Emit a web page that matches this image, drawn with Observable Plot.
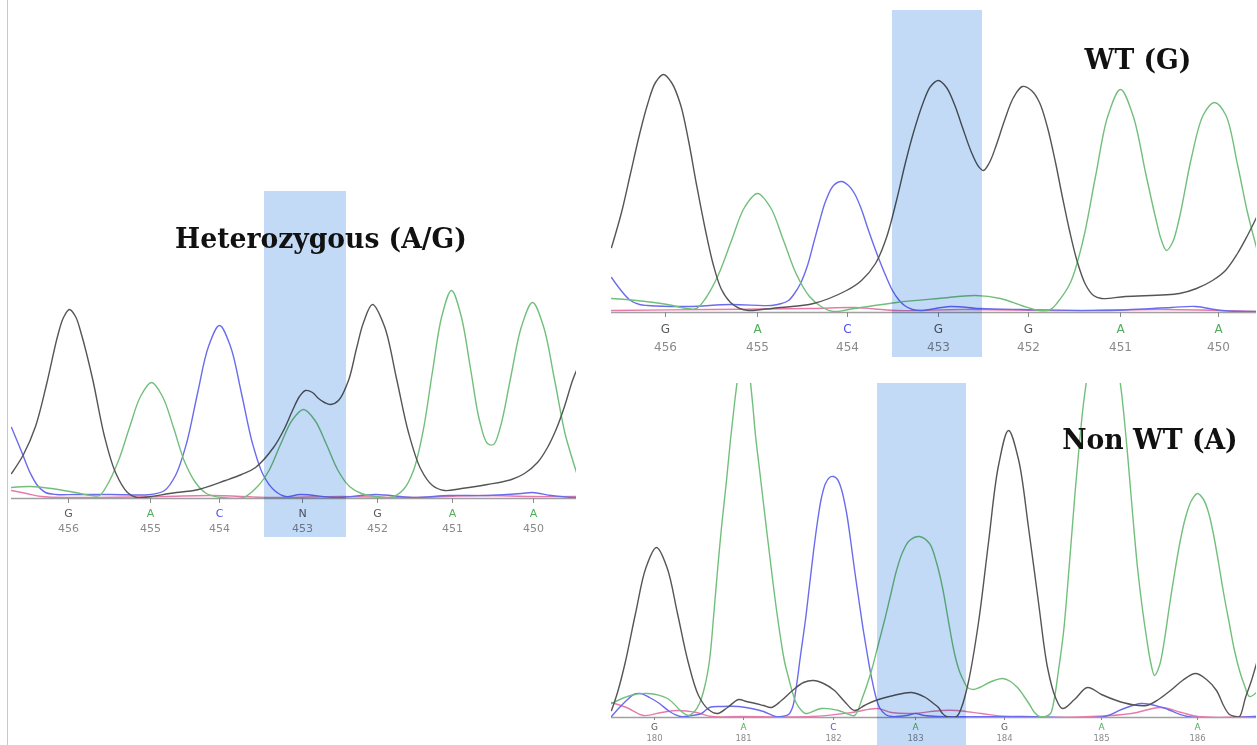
<!DOCTYPE html>
<html><head><meta charset="utf-8">
<script src="https://cdn.jsdelivr.net/npm/d3@7"></script>
<script src="https://cdn.jsdelivr.net/npm/@observablehq/plot@0.6"></script>
<style>
body{margin:0;background:#fff;}
#root{position:relative;width:1257px;height:745px;overflow:hidden;background:#fff;}
.panel{position:absolute;}
.title{position:absolute;font-family:"DejaVu Serif",serif;font-weight:bold;font-size:28px;line-height:1;color:#111;white-space:nowrap;transform:translateX(-50%) scaleX(0.95);transform-origin:50% 50%;}
#edge{position:absolute;left:7px;top:0;width:1px;height:745px;background:#c8c8c8;}
</style></head>
<body><div id="root"><div id="edge"></div></div>
<script>
// ---------- Panel 1: Heterozygous (A/G) ----------  [scan, signal]
const hetTicks = [57, 139, 208, 291, 366, 441, 522];
const hetBases = ["G", "A", "C", "N", "G", "A", "A"];
const hetPositions = [456, 455, 454, 453, 452, 451, 450];
const hetBand = [253, 335];
const hetG = [[0,25],[12,44],[24,72],[35,114],[46,162],[52,181],[58,189],[64,182],[70,164],[81,120],[93,62],[104,26],[116,6],[125,1],[140,2],[158,5],[187,9],[214,18],[230,24],[244,31],[262,51],[272,68],[281,88],[288,102],[294,108],[301,106],[307,100],[313,96],[319,94],[327,98],[337,118],[345,150],[352,176],[361,194],[373,172],[385,120],[397,66],[409,30],[421,13],[433,8],[450,10],[476,14],[500,19],[513,25],[526,36],[536,51],[545,70],[553,92],[561,118],[565,128]];
const hetA = [[0,11],[19,12],[40,10],[64,6],[80,3],[88,3],[96,14],[107,38],[118,71],[129,102],[140,116],[151,102],[162,71],[173,37],[184,16],[195,5],[210,1],[232,1],[246,12],[257.5,28],[269,54],[280.5,78],[292,89],[303.5,78],[315,54],[326.5,28],[338,12],[350,5],[365,2],[379,1],[392,9],[402,28],[411.5,67],[421,127],[430.5,183],[440,208],[449.5,183],[459,130],[468,78],[476,55],[482,54],[489,72],[499,120],[510,172],[521,196],[532,172],[543,119],[554,63],[565,26]];
const hetC = [[0,71],[10,47],[19,25],[26,13],[34,6],[45,4],[64,4],[100,4],[139,4],[153,8],[164,23],[175,55],[186,105],[197,152],[208,173],[219,152],[230,105],[241,55],[252,23],[263,8],[274,2],[289,4],[326,1],[364,4],[401,1],[438,3],[476,3],[510,5],[521,6],[540,3],[561,1],[565,1]];
const hetT = [[0,8],[15,5],[30,2],[60,1],[150,2],[200,3],[260,1],[330,2],[400,1],[470,3],[520,2],[565,2]];

// ---------- Panel 2: WT (G) ----------
const wtTicks = [54, 146, 236, 327, 417, 509, 607];
const wtBases = ["G", "A", "C", "G", "G", "A", "A"];
const wtPositions = [456, 455, 454, 453, 452, 451, 450];
const wtBand = [281, 371];
const wtG = [[0,65],[10,100],[19,139],[28,178],[36,208],[44,230],[52,238],[60,230],[69,208],[77,172],[85,128],[94,82],[102,47],[110,23],[119,10],[128,4],[137,2],[150,3],[169,5],[202,9],[235,22],[250,32],[264,49],[275,75],[285,112],[294,150],[302,180],[311,208],[319,226],[327,232],[335,225],[343,208],[351,185],[360,160],[367,146],[372,142],[378,150],[385,168],[393,192],[402,215],[411,226],[420,222],[428,210],[436,185],[444,150],[451,115],[458,82],[466,50],[474,28],[482,17],[490,14],[514,16],[568,19],[585,24],[601,32],[614,42],[626,59],[636,77],[645,95]];
const wtA = [[0,14],[25,12],[56,8],[75,4],[85,4],[94,14],[107,38],[120,72],[133,105],[146,119],[159,105],[172,72],[185,38],[198,16],[211,5],[222,1],[243,4],[285,10],[327,14],[364,17],[389,14],[410,7],[428,2],[439,3],[446,10],[459,30],[471.5,72],[484,136],[496.5,197],[509,223],[521.5,197],[534,140],[544,95],[550,72],[555,62],[561,70],[568,95],[580,155],[592,198],[603,210],[614,198],[626,148],[636,100],[645,65]];
const wtC = [[0,35],[8,24],[19,12],[28,8],[36,7],[77,6],[119,8],[160,7],[170,9],[177,12],[183,19],[189,29],[196,47],[202,69],[208,91],[214,111],[222,127],[230,131],[237,127],[243,119],[250,103],[256,85],[262,68],[268,52],[275,35],[281,22],[287,13],[293,7],[301,3],[310,2],[339,6],[368,4],[410,3],[493,2],[560,5],[584,6],[610,2],[645,1]];
const wtT = [[0,2],[100,3],[200,4],[243,5],[285,2],[350,3],[450,2],[550,3],[645,1]];

// ---------- Panel 3: Non WT (A) ----------
const mutTicks = [43, 132, 222, 304, 393, 490, 586];
const mutBases = ["G", "A", "C", "A", "G", "A", "A"];
const mutPositions = [180, 181, 182, 183, 184, 185, 186];
const mutBand = [266, 355];
const mutG = [[0,7],[6,25],[13.5,54],[24,104],[34.5,150],[45,170],[55.5,150],[66,104],[76.5,56],[87,22],[97,8],[106,4],[116,10],[127,18],[135,16],[144,14],[152,12],[160,10],[170,17],[181,27],[192,35],[202,37],[212,34],[223,27],[233,16],[243,7],[253,12],[264,17],[282,22],[300,25],[314,20],[322,14],[327,10],[331,4],[335,1],[345,1],[350,10],[357,36],[367,95],[377,175],[387,252],[397,287],[407,258],[417,190],[427,115],[436,50],[444,20],[451,9],[463,18],[476,30],[490,23],[505,17],[520,13],[535,12],[547,18],[559,27],[571,37],[584,44],[595,38],[605,27],[612,12],[618,3],[624,1],[628,1],[634,20],[640,37],[645,54]];
const mutA = [[0,14],[19,22],[36,24],[56,19],[70,6],[77,2],[83,6],[88,14],[93,30],[98,57],[102,100],[106,147],[110,190],[115,237],[119,278],[123,314],[127,345],[132,370],[137,350],[141,315],[144,282],[148,248],[152,214],[156,180],[160,147],[164,115],[169,80],[173,56],[177,40],[181,25],[185,14],[190,7],[194,4],[210,9],[227,7],[235,4],[243,2],[251,20],[260,47],[266,70],[273,97],[279,122],[285,147],[291,165],[298,177],[308,181],[318,174],[325,155],[331,130],[337,96],[343,64],[348,46],[352,37],[356,30],[362,28],[368,30],[380,36],[391,39],[399,36],[406,30],[412,22],[418,13],[423,5],[428,1],[434,1],[439,4],[443,20],[447,47],[452,85],[456,130],[460,180],[464,230],[468,275],[472,314],[477,350],[484,395],[491,415],[498,400],[505,360],[510,325],[516,264],[521,205],[526,150],[531,108],[535,80],[539,56],[543,42],[548,52],[553,78],[558,112],[564,150],[569,178],[574,200],[580,217],[586,224],[592,218],[597,205],[602,183],[607,155],[612,125],[618,93],[623,67],[628,47],[633,32],[638,21],[645,25]];
const mutC = [[0,1],[8,10],[15,17],[22,23],[29,24],[38,20],[48,14],[58,6],[69,1],[80,2],[90,4],[98,10],[110,11],[127,11],[140,9],[152,6],[164,1],[170,1],[177,3],[181,10],[185,32],[189,62],[194,98],[198,132],[202,166],[206,196],[210,220],[214,234],[218,240],[222,241],[226,238],[230,228],[235,205],[239,178],[243,148],[248,113],[252,86],[256,62],[260,40],[264,22],[268,10],[274,3],[280,1],[295,2],[304,4],[313,2],[327,1],[410,1],[493,1],[510,8],[530,14],[551,10],[576,1],[645,1]];
const mutT = [[0,15],[15,10],[32,2],[50,5],[66,7],[85,5],[100,1],[130,1],[200,1],[240,5],[266,9],[280,5],[300,4],[330,7],[345,7],[370,4],[395,1],[480,1],[520,4],[549,10],[570,5],[586,1],[645,1]];

const titles = ["Heterozygous (A/G)", "WT (G)", "Non WT (A)"];

// ---------- drawing ----------
const traceColor = {G: "#555555", A: "#72bf7c", C: "#6b6bee", T: "#e77aac"};
const baseColor = {G: "#5a5a5a", A: "#4fae5c", C: "#4f4ff0", N: "#5a5a5a"};
const bandColor = "#c3daf7";

function panel(cfg) {
  const posMap = new Map(cfg.ticks.map((t, i) => [t, cfg.positions[i]]));
  const lines = {G: cfg.G, A: cfg.A, C: cfg.C, T: cfg.T};
  const order = ["T", "C", "A", "G"];
  const svg = Plot.plot({
    width: cfg.width, height: cfg.height,
    marginLeft: cfg.ml, marginRight: cfg.mr, marginTop: cfg.mt, marginBottom: cfg.mb,
    x: {domain: [0, cfg.xMax], axis: null},
    y: {domain: [0, cfg.height - cfg.mt - cfg.mb], axis: null},
    color: {type: "identity"},
    style: {fontFamily: "DejaVu Sans, sans-serif", background: "transparent", overflow: "visible"},
    marks: [
      Plot.ruleY([0], {stroke: "#a0a0a0", strokeWidth: 1.6}),
      ...order.map(k => Plot.line(lines[k], {
        x: d => d[0], y: d => d[1], stroke: traceColor[k], strokeWidth: 1.4,
        curve: "catmull-rom", clip: true
      })),
      Plot.axisX(cfg.ticks, {
        tickFormat: d => posMap.get(d), tickSize: cfg.tickSize, tickPadding: cfg.tickPad,
        fontSize: cfg.numSize, color: "#8a8a8a", label: null
      }),
      Plot.text(cfg.ticks, {
        x: d => d, y: 0, dy: cfg.letterDy, text: (d, i) => cfg.bases[i],
        fill: (d, i) => baseColor[cfg.bases[i]], fontSize: cfg.letterSize
      }),
      Plot.rect([cfg.band], {
        x1: d => d[0], x2: d => d[1], y1: cfg.bandY[0], y2: cfg.bandY[1],
        fill: bandColor, mixBlendMode: "multiply"
      })
    ]
  });
  const div = document.createElement("div");
  div.className = "panel";
  div.style.left = cfg.left + "px";
  div.style.top = cfg.top + "px";
  div.appendChild(svg);
  document.getElementById("root").appendChild(div);
}

panel({left: 0, top: 180, width: 590, height: 370, ml: 11, mr: 14, mt: 18, mb: 52, xMax: 565,
  ticks: hetTicks, bases: hetBases, positions: hetPositions, band: hetBand, bandY: [-39, 307],
  G: hetG, A: hetA, C: hetC, T: hetT,
  tickSize: 5, tickPad: 21, numSize: 11, letterDy: 15, letterSize: 11});

panel({left: 605, top: 0, width: 652, height: 370, ml: 6, mr: 1, mt: 12, mb: 58, xMax: 645,
  ticks: wtTicks, bases: wtBases, positions: wtPositions, band: wtBand, bandY: [-45, 302],
  G: wtG, A: wtA, C: wtC, T: wtT,
  tickSize: 5, tickPad: 25, numSize: 12, letterDy: 17, letterSize: 12});

panel({left: 605, top: 370, width: 652, height: 375, ml: 6, mr: 1, mt: 13, mb: 28, xMax: 645,
  ticks: mutTicks, bases: mutBases, positions: mutPositions, band: mutBand, bandY: [-28, 334],
  G: mutG, A: mutA, C: mutC, T: mutT,
  tickSize: 3, tickPad: 14, numSize: 8.5, letterDy: 10, letterSize: 9});

const titlePos = [[321, 225], [1138, 46], [1150, 426]];
titles.forEach((t, i) => {
  const el = document.createElement("div");
  el.className = "title";
  el.textContent = t;
  el.style.left = titlePos[i][0] + "px";
  el.style.top = titlePos[i][1] + "px";
  document.getElementById("root").appendChild(el);
});
</script>
</body></html>
